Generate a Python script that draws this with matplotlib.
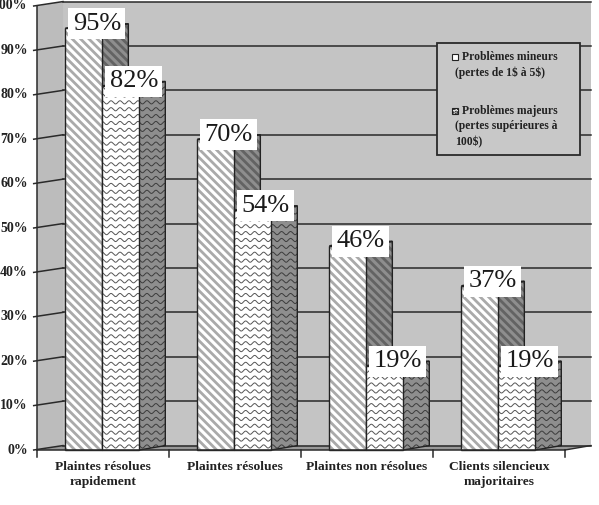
import numpy as np
import matplotlib.pyplot as plt
from matplotlib.patches import Polygon, Rectangle

categories = ["Plaintes résolues\nrapidement", "Plaintes résolues",
              "Plaintes non résolues", "Clients silencieux\nmajoritaires"]
mineurs = [95, 70, 46, 37]
majeurs = [82, 54, 19, 19]
yticks = [0, 10, 20, 30, 40, 50, 60, 70, 80, 90, 100]
legend_labels = ["Problèmes mineurs\n(pertes de 1\\$ à 5\\$)",
                 "Problèmes majeurs\n(pertes supérieures à\n100\\$)"]

SERIF = "Liberation Serif"
DX, DY = 0.197, 1.0      # fake 3D depth
W = 0.28                 # bar width (group = 1)
OFFS = [0.215, 0.495]    # bar offsets inside group
WALL = "#c4c4c4"
SIDEWALL = "#bcbcbc"
FLOOR = "#989898"
DARK = "#8e8e8e"
EDGE = "#222222"

plt.rcParams["hatch.linewidth"] = 2.0

fig = plt.figure(figsize=(5.99, 5.05), dpi=100)
ax = fig.add_axes([0, 0, 1, 1])
ax.set_xlim(-37 / 132, 562 / 132)
ax.set_ylim(-55 / 4.44, 450 / 4.44)
ax.axis("off")

n = len(categories)
top = yticks[-1]

# walls
ax.add_patch(Rectangle((DX, DY), n, top, fc=WALL, ec="none", zorder=0))
ax.add_patch(Polygon([(0, 0), (DX, DY), (DX, top + DY), (0, top)],
                     fc=SIDEWALL, ec="none", zorder=0))
ax.add_patch(Polygon([(0, 0), (n, 0), (n + DX, DY), (DX, DY)],
                     fc=FLOOR, ec="none", zorder=0.5))

# gridlines + ticks
for v in yticks:
    ax.plot([DX, n + DX], [v + DY, v + DY], color="#2a2a2a", lw=1.1, zorder=1)
    ax.plot([-0.025, DX], [v, v + DY], color="#2a2a2a", lw=1.1, zorder=1)
    ax.text(-0.07, v, f"{v}%", ha="right", va="center", fontsize=10,
            fontweight="bold", family=SERIF, color="#222222")
ax.plot([0, 0], [0, top], color="#2a2a2a", lw=1.1, zorder=1)
ax.plot([0, n], [0, 0], color="#2a2a2a", lw=1.1, zorder=6)
ax.plot([n, n + DX], [0, DY], color="#2a2a2a", lw=1.0, zorder=1)
for g in range(n + 1):
    ax.plot([g, g], [0, -1.5], color="#2a2a2a", lw=1.1, zorder=1)

for g, lab in enumerate(categories):
    ax.text(g + 0.5, -2.5, lab, ha="center", va="top", fontsize=9.7,
            fontweight="bold", family=SERIF, color="#222222", linespacing=1.3)


def wavy(patch, x0, x1, y1, color, z):
    xs = np.linspace(x0, x1, 300)
    for yb in np.arange(0.8, y1 + 2, 1.55):
        ln, = ax.plot(xs, yb + 0.36 * np.sin(2 * np.pi * xs / 0.068),
                      color=color, lw=0.7, zorder=z)
        ln.set_clip_path(patch)


def bar3d(x0, v, kind, z):
    x1 = x0 + W
    side = [(x1, 0), (x1 + DX, DY), (x1 + DX, v + DY), (x1, v)]
    topf = [(x0, v), (x1, v), (x1 + DX, v + DY), (x0 + DX, v + DY)]
    front = [(x0, 0), (x1, 0), (x1, v), (x0, v)]
    for pts, face in [(side, "dark"), (topf, "dark"), (front, "light")]:
        fc = DARK if face == "dark" else "white"
        if kind == "diag":
            hc = "#636363" if face == "dark" else "#aaaaaa"
            p = Polygon(pts, fc=fc, ec=hc, lw=0, hatch="\\\\\\\\", zorder=z)
            ax.add_patch(p)
        else:
            p = Polygon(pts, fc=fc, ec="none", zorder=z)
            ax.add_patch(p)
            wavy(p, x0, x1 + DX, v + DY,
                 "#3c3c3c" if face == "dark" else "#555555", z + 0.01)
        ax.add_patch(Polygon(pts, fill=False, ec=EDGE, lw=1.0, zorder=z + 0.02))
        z += 0.03
    return z


z = 2
for g in range(n):
    z = bar3d(g + OFFS[0], mineurs[g], "diag", z)
    z = bar3d(g + OFFS[1], majeurs[g], "wave", z)

# value labels
for g in range(n):
    for off, v in zip(OFFS, [mineurs[g], majeurs[g]]):
        ax.text(g + off + (W + DX) / 2, v + DY, f"{v}%", ha="center",
                va="center", fontsize=19, family=SERIF, color="#1a1a1a",
                zorder=20,
                bbox=dict(boxstyle="square,pad=0.17", fc="white", ec="none"))

# legend
ax.add_patch(Rectangle((437 / 599, 1 - 155 / 505), 143 / 599, 112 / 505,
                       transform=ax.transAxes, fc="#c8c8c8", ec="#2a2a2a",
                       lw=1.3, zorder=21))
for i, lab in enumerate(legend_labels):
    lines = lab.split("\n")
    ytop = [57, 111][i]
    ax.add_patch(Rectangle((452 / 599, 1 - (ytop + 3) / 505), 6 / 599, 6 / 505,
                           transform=ax.transAxes, fc="white", ec="#222222",
                           lw=0.8, hatch="...." if i else None, zorder=22))
    for k, line in enumerate(lines):
        xx = 462 if k == 0 else 455
        ax.text(xx / 599, 1 - (ytop + k * 15.5) / 505, line,
                transform=ax.transAxes, ha="left", va="center", fontsize=8.4,
                fontweight="bold", family=SERIF, color="#222222", zorder=22)

fig.savefig("out.png", dpi=100)
